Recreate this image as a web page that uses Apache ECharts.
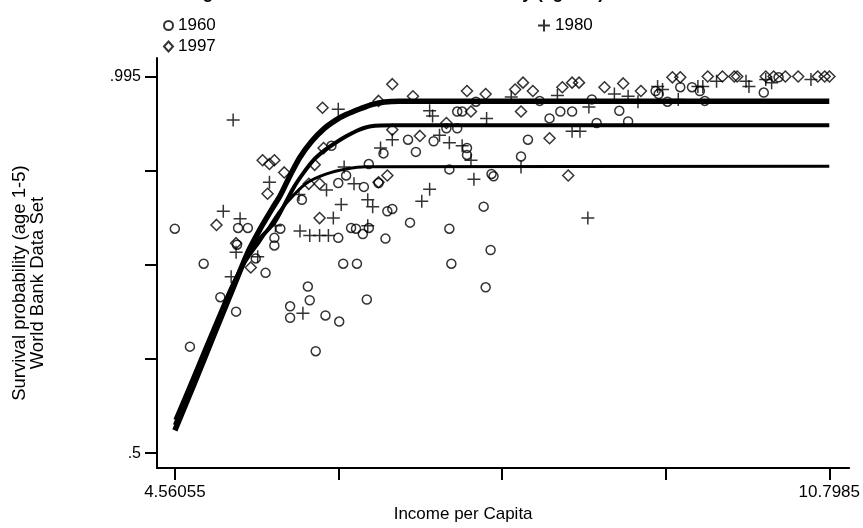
<!DOCTYPE html>
<html><head><meta charset="utf-8">
<script src="https://cdn.jsdelivr.net/npm/echarts@6/dist/echarts.min.js"></script>
<style>html,body{margin:0;padding:0;background:#fff}#c{width:863px;height:528px}</style>
</head><body><div id="c"></div>
<script>
// ---- data ----
const xTicks = [4.56055, 6.1200375, 7.679525, 9.2390125, 10.7985];
const xTickLabels = ['4.56055', '', '', '', '10.7985'];
const yTicks = [0.5, 0.62375, 0.7475, 0.87125, 0.995];
const yTickLabels = ['.5', '', '', '', '.995'];

const pts1960 = [
[4.56,.795],[4.835,.749],[4.704,.640],[4.994,.705],[5.144,.686],[5.163,.796],[5.256,.796],[5.153,.774],
[5.331,.756],[5.425,.737],[5.509,.773],[5.566,.795],[5.509,.783],[5.771,.833],[5.828,.719],[5.846,.701],
[5.659,.693],[5.659,.678],[5.996,.681],[6.127,.673],[5.903,.634],[6.390,.702],[6.053,.904],[6.118,.855],
[6.193,.865],[6.362,.850],[6.409,.880],[6.502,.855],[6.549,.894],[6.586,.818],[6.633,.821],[6.240,.796],
[6.287,.795],[6.352,.788],[6.409,.796],[6.118,.783],[6.568,.782],[6.165,.749],[6.296,.749],[6.802,.803],
[6.783,.912],[6.858,.896],[7.027,.910],[7.149,.927],[7.252,.927],[7.252,.949],[7.299,.949],[7.177,.795],
[7.196,.749],[7.177,.873],[7.345,.901],[7.345,.892],[7.504,.824],[7.570,.767],[7.579,.867],[7.598,.864],
[7.523,.718],[8.038,.963],[8.132,.940],[8.235,.949],[8.347,.949],[8.581,.934],[8.797,.950],[8.881,.936],
[7.926,.912],[7.860,.890],[8.535,.965],[9.143,.976],[9.172,.972],[9.256,.962],[9.378,.981],[9.490,.981],
[9.565,.976],[9.612,.963],[10.174,.974],[7.43,.962],[10.315,.994]
];
const pts1980 = [
[5.116,.938],[5.022,.818],[5.182,.808],[5.144,.764],[5.462,.856],[5.519,.799],[5.350,.758],[5.097,.732],
[5.743,.840],[5.753,.792],[5.846,.786],[5.940,.786],[6.024,.786],[6.006,.846],[6.071,.809],[6.146,.827],
[6.174,.876],[6.268,.854],[6.399,.833],[6.446,.824],[6.399,.799],[6.521,.901],[6.633,.912],[6.118,.952],
[6.914,.831],[6.989,.847],[6.989,.950],[7.017,.943],[7.083,.918],[7.177,.908],[7.299,.904],[7.383,.885],
[7.411,.860],[7.532,.940],[7.767,.968],[8.207,.970],[8.347,.923],[8.422,.923],[8.507,.955],[8.750,.972],
[8.881,.969],[8.975,.962],[9.162,.982],[9.209,.978],[9.359,.965],[9.546,.982],[9.593,.982],[9.724,.989],
[10.005,.989],[10.033,.982],[10.193,.991],[10.249,.987],[10.624,.991],[7.860,.876],[5.781,.684],[8.497,.809]
];
const pts1997 = [
[4.957,.800],[5.397,.885],[5.509,.885],[5.462,.880],[5.444,.841],[5.144,.776],[5.284,.744],[5.603,.869],
[5.893,.879],[5.978,.901],[5.837,.854],[5.940,.854],[5.940,.809],[6.586,.865],[6.502,.856],[5.968,.954],
[6.502,.963],[6.633,.985],[6.830,.969],[6.896,.917],[7.149,.934],[7.345,.976],[7.523,.972],[7.383,.949],
[6.633,.925],[7.804,.978],[7.879,.987],[7.973,.976],[7.860,.949],[8.254,.981],[8.347,.987],[8.413,.987],
[8.656,.981],[8.834,.986],[9.003,.976],[8.132,.914],[8.310,.865],[9.303,.994],[9.378,.994],[9.640,.995],
[9.780,.995],[9.893,.995],[9.921,.995],[10.193,.995],[10.268,.995],[10.380,.995],[10.502,.995],[10.689,.995],
[10.755,.995],[10.80,.995]
];
const fit1997 = [
[4.56055,.5300],[4.741,.5900],[4.929,.6540],[5.116,.7170],[5.256,.7640],[5.369,.7936],[5.491,.8220],
[5.566,.8390],[5.659,.8650],[5.753,.8890],[5.865,.9100],[5.978,.9260],[6.099,.9380],[6.193,.9450],
[6.334,.9530],[6.446,.9585],[6.560,.9615],[6.700,.9624],[10.7985,.9624]
];
const fit1980 = [
[4.56055,.5370],[4.741,.5970],[4.929,.6600],[5.116,.7215],[5.256,.7602],[5.369,.7820],[5.509,.8030],
[5.603,.8260],[5.697,.8500],[5.790,.8690],[5.884,.8855],[5.978,.8970],[6.071,.9060],[6.193,.9165],
[6.315,.9250],[6.430,.9297],[6.650,.9309],[10.7985,.9309]
];
const fit1960 = [
[4.56055,.5440],[4.741,.6030],[4.929,.6650],[5.116,.7240],[5.256,.7563],[5.369,.7781],[5.472,.7999],
[5.566,.8192],[5.697,.8398],[5.818,.8552],[6.006,.8670],[6.193,.8735],[6.380,.8765],[10.7985,.8770]
];

const FONT = 'Liberation Sans';
const hollow = {color: 'rgba(0,0,0,0)', borderColor: '#000', borderWidth: 1.5};
const plusPath = 'path://M0,6L12,6M6,0L6,12';

const chart = echarts.init(document.getElementById('c'), null, {renderer: 'canvas'});
chart.setOption({
  animation: false,
  backgroundColor: '#fff',
  title: {
    text: 'Log Income and Child Survival Probability (age1-5)',
    left: 176, top: -21,
    textStyle: {fontFamily: FONT, fontSize: 17.5, fontWeight: 'bold', color: '#000'}
  },
  legend: [
    {data: [{name: '1960', icon: 'circle'}, {name: '1997', icon: 'diamond'}],
     orient: 'vertical', left: 158, top: 12, itemWidth: 9, itemHeight: 10, itemGap: 4,
     textStyle: {fontFamily: FONT, fontSize: 17, color: '#000'}},
    {data: [{name: '1980', icon: plusPath}],
     orient: 'vertical', left: 532, top: 12, itemWidth: 12, itemHeight: 12,
     textStyle: {fontFamily: FONT, fontSize: 17, color: '#000'}}
  ],
  grid: {left: 157, right: 1, top: 58, bottom: 50, containLabel: false},
  xAxis: {
    type: 'value', min: 4.3901, max: 10.9886,
    name: 'Income per Capita', nameLocation: 'middle', nameGap: 33,
    nameTextStyle: {fontFamily: FONT, fontSize: 17, color: '#000', padding: [0, 80, 0, 0]},
    axisLine: {lineStyle: {color: '#000', width: 2}},
    axisTick: {show: true, length: 12, lineStyle: {color: '#000', width: 2}, customValues: xTicks},
    axisLabel: {customValues: xTicks, fontFamily: FONT, fontSize: 17, color: '#000', margin: 16,
      formatter: v => { const i = xTicks.findIndex(t => Math.abs(t - v) < 1e-6); return i >= 0 ? xTickLabels[i] : ''; }},
    splitLine: {show: false}
  },
  yAxis: {
    type: 'value', min: 0.48036, max: 1.0194,
    name: 'Survival probability (age 1-5)\nWorld Bank Data Set', nameLocation: 'middle', nameGap: 110,
    nameTextStyle: {fontFamily: FONT, fontSize: 18.5, color: '#000', lineHeight: 18, padding: [0, 40, 0, 0]},
    axisLine: {lineStyle: {color: '#000', width: 2}},
    axisTick: {show: true, length: 12, lineStyle: {color: '#000', width: 2}, customValues: yTicks},
    axisLabel: {customValues: yTicks, fontFamily: FONT, fontSize: 16, color: '#000', margin: 16,
      formatter: v => { const i = yTicks.findIndex(t => Math.abs(t - v) < 1e-6); return i >= 0 ? yTickLabels[i] : ''; }},
    splitLine: {show: false}
  },
  series: [
    {name: '1960', type: 'scatter', data: pts1960, symbol: 'circle', symbolSize: 9, itemStyle: hollow},
    {name: '1980', type: 'scatter', data: pts1980, symbol: plusPath, symbolSize: 13, itemStyle: hollow},
    {name: '1997', type: 'scatter', data: pts1997, symbol: 'diamond', symbolSize: 11, itemStyle: hollow},
    {name: 'fit1960', type: 'line', data: fit1960, showSymbol: false, smooth: 0.3,
     lineStyle: {color: '#000', width: 3}, z: 3},
    {name: 'fit1980', type: 'line', data: fit1980, showSymbol: false, smooth: 0.3,
     lineStyle: {color: '#000', width: 4}, z: 3},
    {name: 'fit1997', type: 'line', data: fit1997, showSymbol: false, smooth: 0.3,
     lineStyle: {color: '#000', width: 5.5}, z: 3}
  ]
});
</script></body></html>
